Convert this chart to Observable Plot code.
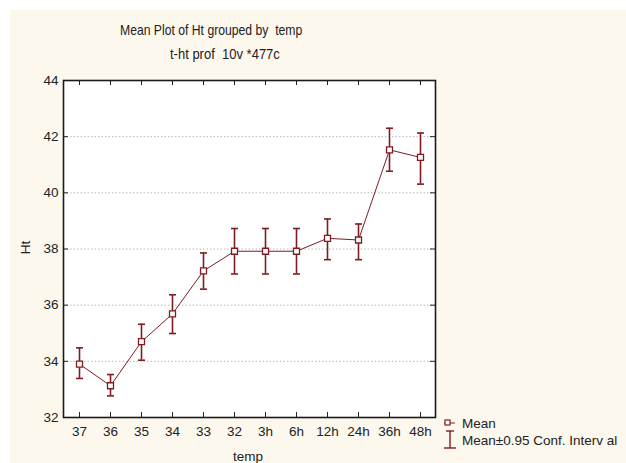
<!DOCTYPE html>
<html>
<head>
<meta charset="utf-8">
<script src="https://cdn.jsdelivr.net/npm/d3@7"></script>
<script src="https://cdn.jsdelivr.net/npm/@observablehq/plot@0.6"></script>
<style>
  html, body { margin: 0; padding: 0; background: #ffffff; }
  #wrap { position: relative; width: 626px; height: 463px; overflow: hidden; font-family: "Liberation Sans", Arial, sans-serif; color: #222; }
  #cream { position: absolute; left: 10px; top: 10px; right: 0; bottom: 0; background: #fcf8ee; }
  #chart { position: absolute; left: 0; top: 0; }
  .t { position: absolute; white-space: pre; font-size: 12px; color: #222; }
</style>
</head>
<body>
<div id="wrap">
  <div id="cream"></div>
  <div id="chart"></div>
  <div class="t" id="title" style="left:120px; top:22px; font-size:12.2px; transform: scaleY(1.18); transform-origin: left top;">Mean Plot of Ht grouped by  temp</div>
  <div class="t" id="subtitle" style="left:170px; top:46px; font-size:13px; transform: scaleY(1.12); transform-origin: left top;">t-ht prof  10v *477c</div>
  <div class="t" id="ylab" style="left:19px; top:240px; font-size:13.5px; transform: rotate(-90deg); transform-origin: center;">Ht</div>
  <div class="t" id="xlab" style="left:233px; top:449px; font-size:13.5px;">temp</div>
  <div id="legend" style="position:absolute; left:440px; top:413px;"></div>
</div>
<script>
const categories = ["37", "36", "35", "34", "33", "32", "3h", "6h", "12h", "24h", "36h", "48h"];
const means = [33.90, 33.13, 34.70, 35.69, 37.22, 37.92, 37.92, 37.92, 38.38, 38.32, 41.53, 41.26];
const upper = [34.48, 33.53, 35.32, 36.37, 37.86, 38.73, 38.73, 38.73, 39.07, 38.89, 42.30, 42.13];
const lower = [33.39, 32.77, 34.04, 34.99, 36.57, 37.11, 37.11, 37.11, 37.62, 37.62, 40.77, 40.31];
const yTicks = [32, 34, 36, 38, 40, 42, 44];
const gridValues = [34, 36, 38, 40, 42];

const data = categories.map((c, i) => ({cat: c, mean: means[i], hi: upper[i], lo: lower[i]}));

const red = "#7e1c22";
const capSymbol = { draw(ctx, size) { ctx.moveTo(-3.5, 0); ctx.lineTo(3.5, 0); } };
const squareSymbol = { draw(ctx, size) { ctx.rect(-3, -3, 6, 6); } };

const W = 626, H = 463, mL = 63, mR = 191, mT = 80, mB = 46;
const plotW = W - mL - mR, plotH = H - mT - mB;

const chart = Plot.plot({
  width: W,
  height: H,
  marginLeft: mL,
  marginRight: mR,
  marginTop: mT,
  marginBottom: mB,
  style: { background: "transparent", fontFamily: "'Liberation Sans', Arial, sans-serif", fontSize: "13.5px", color: "#222" },
  x: { type: "point", domain: categories, padding: 0.5, label: null },
  y: { domain: [32, 44], label: null },
  marks: [
    Plot.frame({ fill: "white", stroke: "none" }),
    Plot.ruleY(gridValues, { y: d => d, stroke: "#b8b8b8", strokeDasharray: "1.5,2", strokeWidth: 1 }),
    Plot.tickX(categories, { x: d => d, stroke: "#222", insetTop: plotH - 5 }),
    Plot.tickX(categories, { x: d => d, stroke: "#222", insetBottom: plotH - 5 }),
    Plot.tickY(yTicks, { y: d => d, stroke: "#222", insetRight: plotW - 5 }),
    Plot.tickY(yTicks, { y: d => d, stroke: "#222", insetLeft: plotW - 5 }),
    Plot.axisX({ tickSize: 0, tickPadding: 9, fontSize: 13.5, label: null }),
    Plot.axisY({ ticks: yTicks, tickSize: 0, tickPadding: 5, fontSize: 13.5, label: null }),
    Plot.ruleX(data, { x: "cat", y1: "lo", y2: "hi", stroke: red, strokeWidth: 1.6 }),
    Plot.dot(data, { x: "cat", y: "hi", symbol: capSymbol, r: 3, stroke: red, strokeWidth: 1.6, fill: "none" }),
    Plot.dot(data, { x: "cat", y: "lo", symbol: capSymbol, r: 3, stroke: red, strokeWidth: 1.6, fill: "none" }),
    Plot.line(data, { x: "cat", y: "mean", stroke: red, strokeWidth: 1 }),
    Plot.dot(data, { x: "cat", y: "mean", symbol: squareSymbol, r: 3, stroke: red, strokeWidth: 1.3, fill: "white" }),
    Plot.frame({ stroke: "#1a1a1a", strokeWidth: 1.6 })
  ]
});
document.getElementById("chart").appendChild(chart);

// legend
const lg = d3.select("#legend").append("svg").attr("width", 186).attr("height", 42)
  .style("font-family", "'Liberation Sans', Arial, sans-serif").style("font-size", "13.5px");
lg.append("line").attr("x1", 4).attr("x2", 15).attr("y1", 10).attr("y2", 10).attr("stroke", red).attr("stroke-width", 1);
lg.append("rect").attr("x", 5).attr("y", 7).attr("width", 5).attr("height", 5).attr("fill", "white").attr("stroke", red).attr("stroke-width", 1.2);
lg.append("text").attr("x", 22).attr("y", 14.5).attr("fill", "#222").text("Mean");
lg.append("line").attr("x1", 10).attr("x2", 10).attr("y1", 18).attr("y2", 35).attr("stroke", red).attr("stroke-width", 1.4);
lg.append("line").attr("x1", 6).attr("x2", 14).attr("y1", 18).attr("y2", 18).attr("stroke", red).attr("stroke-width", 1.4);
lg.append("line").attr("x1", 4).attr("x2", 16).attr("y1", 35).attr("y2", 35).attr("stroke", red).attr("stroke-width", 1.4);
lg.append("text").attr("x", 22).attr("y", 32).attr("fill", "#222").text("Mean±0.95 Conf. Interv al");
</script>
</body>
</html>
